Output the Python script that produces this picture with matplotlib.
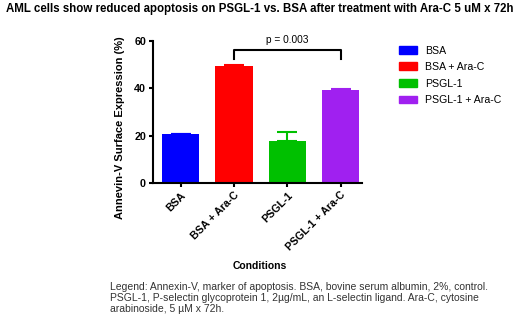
import matplotlib
matplotlib.use("Agg")
import matplotlib.pyplot as plt
from matplotlib.patches import Patch

plt.rcParams['font.family'] = ['Liberation Sans', 'DejaVu Sans']

conditions = ["BSA", "BSA + Ara-C", "PSGL-1", "PSGL-1 + Ara-C"]
means = [20.7, 49.5, 17.9, 39.5]
errors = [0.15, 0.3, 3.8, 0.25]
colors = ["#0000FF", "#FF0000", "#00C000", "#A020F0"]
p_label = "p = 0.003"
title = "AML cells show reduced apoptosis on PSGL-1 vs. BSA after treatment with Ara-C 5 uM x 72h"
caption = ("Legend: Annexin-V, marker of apoptosis. BSA, bovine serum albumin, 2%, control.\n"
           "PSGL-1, P-selectin glycoprotein 1, 2\u00b5g/mL, an L-selectin ligand. Ara-C, cytosine\n"
           "arabinoside, 5 \u00b5M x 72h.")

fig = plt.figure(figsize=(5.2, 3.3), dpi=100)
ax = fig.add_axes([153 / 520, 1 - 183 / 330, 209 / 520, 142 / 330])

x = list(range(len(conditions)))
ax.bar(x, means, width=0.7, color=colors, zorder=2)
for i in x:
    ax.errorbar(i, means[i], yerr=[[0], [errors[i]]], color=colors[i],
                capsize=7, elinewidth=1.5, capthick=1.5, zorder=1)

# significance bracket
b_lo, b_hi = 52.2, 56.4
ax.plot([1, 1, 3, 3], [b_lo, b_hi, b_hi, b_lo], color="black", lw=1.5, clip_on=False)
ax.text(2, 60.5, p_label, ha="center", va="center", fontsize=7.3)

ax.set_xlim(-0.52, 3.4)
ax.set_ylim(0, 60)
ax.set_yticks([0, 20, 40, 60])
ax.set_xticks(x)
ax.set_xticklabels(conditions, rotation=45, ha="right", rotation_mode="anchor",
                   fontsize=7.7, fontweight="bold")
for lab in ax.get_yticklabels():
    lab.set_fontweight("bold")
    lab.set_fontsize(7.7)
ax.spines["top"].set_visible(False)
ax.spines["right"].set_visible(False)
ax.spines["left"].set_linewidth(1.5)
ax.spines["bottom"].set_linewidth(1.5)
ax.tick_params(width=1.5, length=3, pad=2)

fig.text(120 / 520, 1 - 128 / 330, "Annevin-V Surface Expression (%)", rotation=90,
         ha="center", va="center", fontsize=8, fontweight="bold")

handles = [Patch(facecolor=c, edgecolor=c) for c in colors]
fig.legend(handles, conditions, loc="upper left", bbox_to_anchor=(389 / 520, 1 - 36 / 330),
           frameon=False, fontsize=7.6, handlelength=1.75, handleheight=0.75,
           handletextpad=0.75, labelspacing=0.62)

fig.text(0.5, 1 - 9 / 330, title, ha="center", va="center", fontsize=8.3, fontweight="bold")
fig.text(260 / 520, 1 - 266 / 330, "Conditions", ha="center", va="center",
         fontsize=7.5, fontweight="bold")
fig.text(110 / 520, 1 - 298 / 330, caption, ha="left", va="center", fontsize=7.5,
         color="#333333", linespacing=1.15)

fig.savefig("out.png", dpi=100)
